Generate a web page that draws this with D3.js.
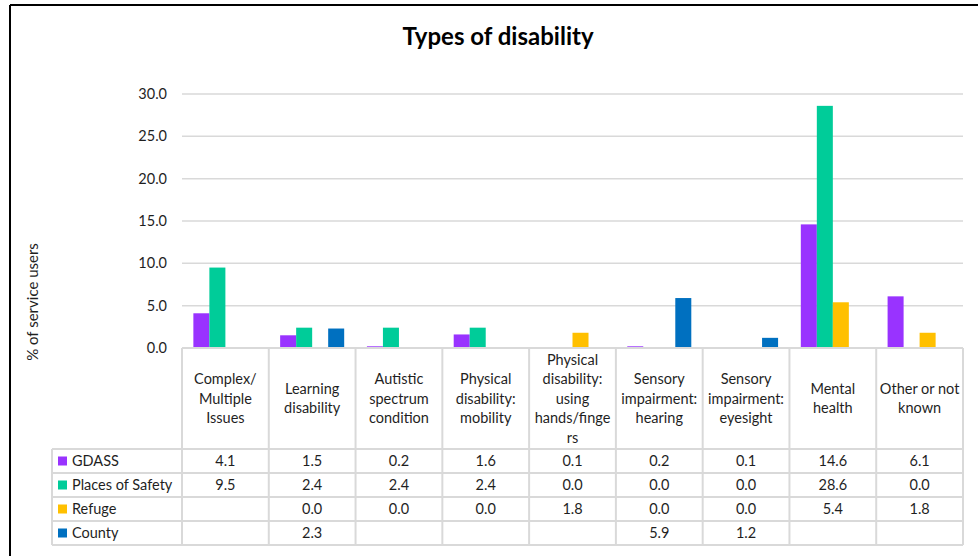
<!DOCTYPE html>
<html>
<head>
<meta charset="utf-8">
<script src="https://cdn.jsdelivr.net/npm/d3@7/dist/d3.min.js"></script>
<style>
  html, body { margin: 0; padding: 0; background: #fff; }
  svg { display: block; font-family: Lato, "Open Sans", "Liberation Sans", sans-serif; }
</style>
</head>
<body>
<svg id="chart" width="978" height="556"></svg>
<script>
// Category labels (line breaks as shown in the table header)
const categories = [
  "Complex/\nMultiple\nIssues",
  "Learning\ndisability",
  "Autistic\nspectrum\ncondition",
  "Physical\ndisability:\nmobility",
  "Physical\ndisability:\nusing\nhands/finge\nrs",
  "Sensory\nimpairment:\nhearing",
  "Sensory\nimpairment:\neyesight",
  "Mental\nhealth",
  "Other or not\nknown"
];
const seriesNames = ["GDASS", "Places of Safety", "Refuge", "County"];
const gdass          = [4.1, 1.5, 0.2, 1.6, 0.1, 0.2, 0.1, 14.6, 6.1];
const placesOfSafety = [9.5, 2.4, 2.4, 2.4, 0.0, 0.0, 0.0, 28.6, 0.0];
const refuge         = [null, 0.0, 0.0, 0.0, 1.8, 0.0, 0.0, 5.4, 1.8];
const county         = [null, 2.3, null, null, null, 5.9, 1.2, null, null];
const seriesColors   = ["#9933FF", "#00CC99", "#FFC000", "#0070C0"];
const yTicks = [0, 5, 10, 15, 20, 25, 30];

const seriesValues = [gdass, placesOfSafety, refuge, county];

const svg = d3.select("#chart");
const textColor = "#1f1f1f";
const lineColor = "#d9d9d9";
const fs = 14.5;

// Frame lines
svg.append("line").attr("x1", 10).attr("x2", 10).attr("y1", 5).attr("y2", 556)
  .attr("stroke", "#000").attr("stroke-width", 2);
svg.append("line").attr("x1", 10).attr("x2", 978).attr("y1", 5).attr("y2", 5)
  .attr("stroke", "#000").attr("stroke-width", 2);

// Title
svg.append("text").attr("x", 498).attr("y", 45).attr("text-anchor", "middle")
  .attr("font-size", 24).attr("font-weight", 700).attr("fill", "#000")
  .text("Types of disability");

// Scales
const plotLeft = 182, plotRight = 963, plotTop = 94, plotBottom = 348;
const x0 = d3.scaleBand().domain(d3.range(categories.length))
  .range([plotLeft, plotRight]).paddingInner(0).paddingOuter(0);
const x1 = d3.scaleBand().domain(d3.range(seriesNames.length))
  .range([0, x0.bandwidth()]).paddingInner(0).paddingOuter(0.71);
const y = d3.scaleLinear().domain([0, 30]).range([plotBottom, plotTop]);

// Gridlines
svg.append("g").selectAll("line").data(yTicks.filter(t => t > 0)).join("line")
  .attr("x1", plotLeft).attr("x2", plotRight)
  .attr("y1", d => y(d)).attr("y2", d => y(d))
  .attr("stroke", lineColor).attr("stroke-width", 1.5);

// Y axis tick labels
const yAxis = d3.axisLeft(y).tickValues(yTicks).tickFormat(d3.format(".1f")).tickSize(0).tickPadding(0);
const yg = svg.append("g").attr("transform", `translate(${plotLeft - 15},0)`).call(yAxis);
yg.select(".domain").remove();
yg.selectAll("text").attr("font-size", fs).attr("fill", textColor)
  .attr("font-family", 'Lato, "Open Sans", sans-serif');

// Y axis title
svg.append("text")
  .attr("transform", `translate(38,302) rotate(-90)`)
  .attr("text-anchor", "middle").attr("font-size", 15).attr("fill", textColor)
  .text("% of service users");

// Bars
const barData = [];
seriesValues.forEach((vals, s) => vals.forEach((v, c) => {
  if (v !== null) barData.push({ s, c, v });
}));
svg.append("g").selectAll("rect").data(barData).join("rect")
  .attr("x", d => x0(d.c) + x1(d.s))
  .attr("width", x1.bandwidth())
  .attr("y", d => y(d.v))
  .attr("height", d => y(0) - y(d.v))
  .attr("fill", d => seriesColors[d.s]);

// Data table
const headerBottom = 449;
const rowH = 24;
const tableLeft = 52;
const tableBottom = headerBottom + rowH * seriesNames.length;
const tg = svg.append("g");

// Horizontal lines
tg.append("line").attr("x1", plotLeft).attr("x2", plotRight).attr("y1", plotBottom).attr("y2", plotBottom)
  .attr("stroke", lineColor).attr("stroke-width", 2);
d3.range(seriesNames.length + 1).forEach(i => {
  const yy = headerBottom + i * rowH;
  tg.append("line").attr("x1", tableLeft).attr("x2", plotRight).attr("y1", yy).attr("y2", yy)
    .attr("stroke", lineColor).attr("stroke-width", 2);
});
// Vertical lines
tg.append("line").attr("x1", tableLeft).attr("x2", tableLeft).attr("y1", headerBottom).attr("y2", tableBottom)
  .attr("stroke", lineColor).attr("stroke-width", 2);
d3.range(categories.length + 1).forEach(i => {
  const xx = plotLeft + i * x0.step();
  tg.append("line").attr("x1", xx).attr("x2", xx).attr("y1", plotBottom).attr("y2", tableBottom)
    .attr("stroke", lineColor).attr("stroke-width", 2);
});

// Category header labels
const lineH = 19.5;
categories.forEach((cat, i) => {
  const lines = cat.split("\n");
  const cx = x0(i) + x0.bandwidth() / 2;
  const cy = (plotBottom + headerBottom) / 2;
  const t = tg.append("text").attr("text-anchor", "middle").attr("font-size", fs).attr("fill", textColor);
  lines.forEach((ln, k) => {
    t.append("tspan").attr("x", cx)
      .attr("y", cy + (k - (lines.length - 1) / 2) * lineH + 5)
      .text(ln);
  });
});

// Legend keys and series rows
seriesNames.forEach((name, s) => {
  const rowTop = headerBottom + s * rowH;
  const cy = rowTop + rowH / 2;
  tg.append("rect").attr("x", 58).attr("y", cy - 4.5).attr("width", 9).attr("height", 9)
    .attr("fill", seriesColors[s]);
  tg.append("text").attr("x", 72).attr("y", cy + 5).attr("font-size", fs).attr("fill", textColor)
    .text(name);
  seriesValues[s].forEach((v, c) => {
    if (v === null) return;
    tg.append("text").attr("x", x0(c) + x0.bandwidth() / 2).attr("y", cy + 5)
      .attr("text-anchor", "middle").attr("font-size", fs).attr("fill", textColor)
      .text(d3.format(".1f")(v));
  });
});
</script>
</body>
</html>
